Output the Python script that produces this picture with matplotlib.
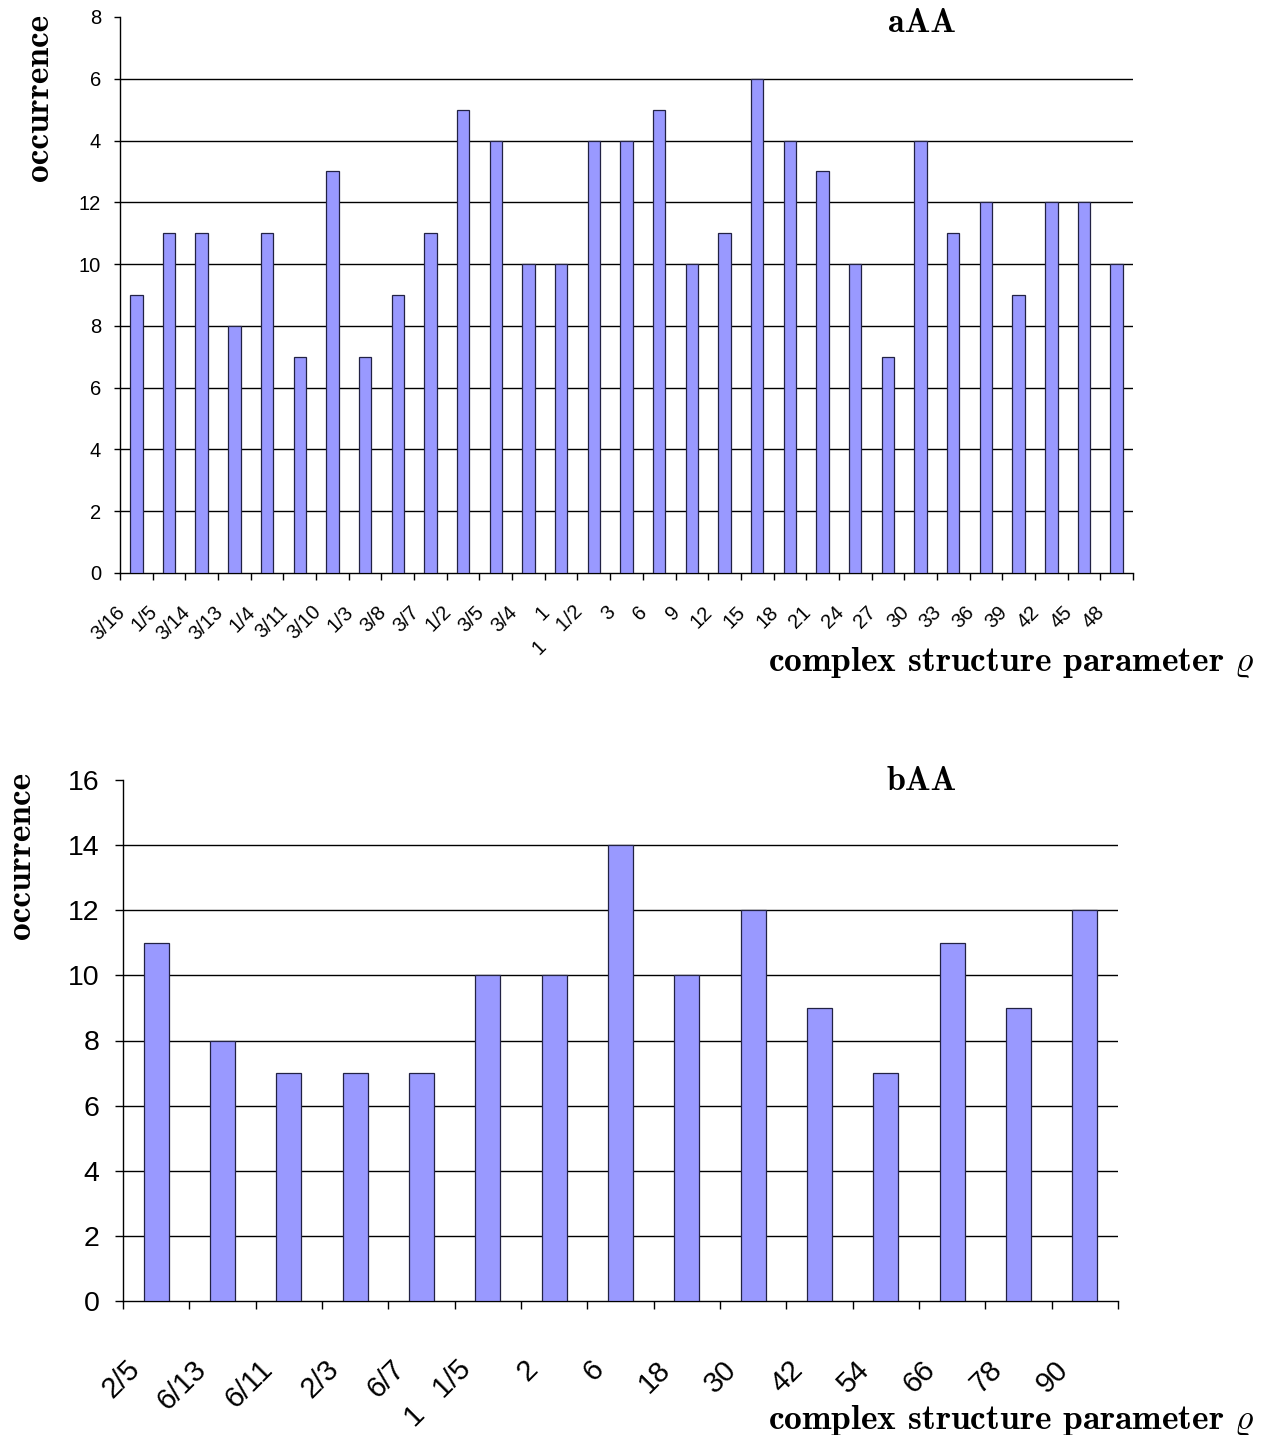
import matplotlib
matplotlib.use('Agg')
import matplotlib.pyplot as plt
import numpy as np
from matplotlib.transforms import ScaledTranslation

plt.rcParams['mathtext.fontset'] = 'cm'
plt.rcParams['axes.unicode_minus'] = False

# ---------------- data ----------------
top_categories = ['3/16', '1/5', '3/14', '3/13', '1/4', '3/11', '3/10', '1/3', '3/8', '3/7',
                  '1/2', '3/5', '3/4', '1', '1    1/2', '3', '6', '9', '12', '15', '18', '21',
                  '24', '27', '30', '33', '36', '39', '42', '45', '48']
top_values = [9, 11, 11, 8, 11, 7, 13, 7, 9, 11, 15, 14, 10, 10, 14, 14, 15, 10, 11, 16,
              14, 13, 10, 7, 14, 11, 12, 9, 12, 12, 10]
top_yticks = [0, 2, 4, 6, 8, 10, 12, 14, 16, 18]
top_ytick_labels = ['0', '2', '4', '6', '8', '10', '12', '4', '6', '8']
top_title = 'aAA'

bottom_categories = ['2/5', '6/13', '6/11', '2/3', '6/7', '1   1/5', '2', '6', '18', '30',
                     '42', '54', '66', '78', '90']
bottom_values = [11, 8, 7, 7, 7, 10, 10, 14, 10, 12, 9, 7, 11, 9, 12]
bottom_yticks = [0, 2, 4, 6, 8, 10, 12, 14, 16]
bottom_ytick_labels = ['0', '2', '4', '6', '8', '10', '12', '14', '16']
bottom_title = 'bAA'

ylabel = 'occurrence'
xlabel = 'complex structure parameter $\\varrho$'

W, H = 1266, 1435
fig = plt.figure(figsize=(W / 100, H / 100), dpi=100)

ax1 = fig.add_axes([120 / W, 1 - 573 / H, (1133 - 120) / W, (573 - 17) / H])
ax2 = fig.add_axes([123 / W, 1 - 1301 / H, (1118 - 123) / W, (1301 - 780) / H])

sans = 'Liberation Sans'
serif_b = 'cmb10'


def draw(ax, cats, vals, yticks, ylabels, ytfs, xtfs, xpad, ypad, ylen, xlen, dx):
    x = np.arange(len(cats))
    ax.bar(x, vals, width=0.38, color='#9999ff', edgecolor='#222244',
           linewidth=0.9, zorder=3)
    ax.set_xlim(-0.5, len(cats) - 0.5)
    ax.set_ylim(yticks[0], yticks[-1])
    ax.set_yticks(yticks)
    ax.set_yticklabels(ylabels, fontsize=ytfs, family=sans)
    ax.set_xticks(x)
    ax.set_xticklabels(cats, rotation=45, ha='right', va='top', fontsize=xtfs, family=sans)
    ax.set_xticks(np.arange(len(cats) + 1) - 0.5, minor=True)
    ax.tick_params(axis='x', which='major', length=0, pad=xpad)
    ax.tick_params(axis='x', which='minor', length=xlen, width=1.0, color='black')
    ax.tick_params(axis='y', length=ylen, width=1.0, pad=ypad, color='black')
    for s in ['top', 'right']:
        ax.spines[s].set_visible(False)
    for s in ['left', 'bottom']:
        ax.spines[s].set_color('black')
        ax.spines[s].set_linewidth(1.0)
    ax.set_axisbelow(True)
    ax.yaxis.grid(True, color='black', linewidth=1.0)
    gl = ax.yaxis.get_gridlines()
    gl[-1].set_visible(False)
    gl[0].set_visible(False)
    off = ScaledTranslation(dx / 100, 0, fig.dpi_scale_trans)
    for lab in ax.get_xticklabels():
        lab.set_transform(lab.get_transform() + off)


draw(ax1, top_categories, top_values, top_yticks, top_ytick_labels,
     14.5, 14.5, 21, 9, 4.5, 5, -8)
draw(ax2, bottom_categories, bottom_values, bottom_yticks, bottom_ytick_labels,
     20.5, 21, 39, 11, 6, 6, -11)

# labels / titles
fs_lab = 25.5
fig.text(40 / W, 1 - 97 / H, ylabel, rotation=90, ha='center', va='center',
         family=serif_b, fontsize=fs_lab)
fig.text(22 / W, 1 - 855 / H, ylabel, rotation=90, ha='center', va='center',
         family=serif_b, fontsize=fs_lab)
fig.text(922 / W, 1 - 23 / H, top_title, ha='center', va='center',
         family=serif_b, fontsize=fs_lab - 1)
fig.text(922 / W, 1 - 782 / H, bottom_title, ha='center', va='center',
         family=serif_b, fontsize=fs_lab - 1)
fig.text(1255 / W, 1 - 662 / H, xlabel, ha='right', va='center',
         family=serif_b, fontsize=fs_lab)
fig.text(1255 / W, 1 - 1420 / H, xlabel, ha='right', va='center',
         family=serif_b, fontsize=fs_lab)

fig.savefig('out.png', dpi=100)
